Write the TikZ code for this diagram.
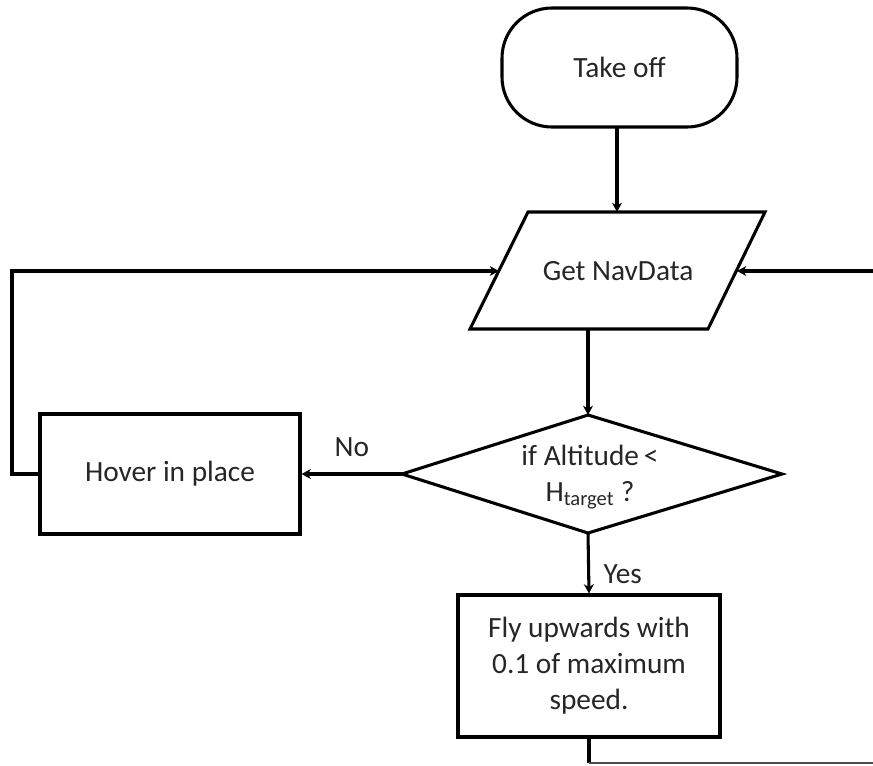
\documentclass[tikz,border=0pt]{standalone}
\usepackage{fontspec}
\setmainfont{Carlito}
\usetikzlibrary{arrows.meta}
\begin{document}
\begin{tikzpicture}[x=0.75pt,y=-0.75pt,
  line width=2.3pt,
  every node/.style={font=\fontsize{22}{27}\selectfont, text=black!85},
  flow/.style={-{Stealth[length=7pt,width=7.5pt]}},
  label/.style={inner sep=0pt}]
\useasboundingbox (0,0) rectangle (873,765);

% Start terminal
\draw[rounded corners=50pt*0.75] (502,8) rectangle (737,127);
\node (takeoff) at (619.5,67.5) {Take off};
\coordinate (takeoffB) at (617,127);

% Input/output parallelogram
\draw (528,212) -- (765,212) -- (708,329) -- (470,329) -- cycle;
\node (nav) at (618,271) {Get NavData};
\coordinate (navT) at (617,212);
\coordinate (navL) at (499,271);
\coordinate (navR) at (737,271);
\coordinate (navB) at (588,329);

% Decision diamond
\draw (588,415) -- (782,474) -- (588,533) -- (402,474) -- cycle;
\node[align=center] (dec) at (590,477) {if Altitude\,{<}\\H\textsubscript{target} ?};
\coordinate (decT) at (588,415);
\coordinate (decL) at (402,474);
\coordinate (decB) at (588,533);

% Hover box
\node[draw, minimum width=260*0.75pt, minimum height=120*0.75pt] (hover) at (170,474) {Hover in place};

% Climb box
\node[draw, minimum width=262*0.75pt, minimum height=142*0.75pt, align=center] (fly) at (589,666) {Fly upwards with\\0.1 of maximum\\speed.};

% Right-hand return line and bottom continuation
\coordinate (rightEnd) at (873,271);
\coordinate (bottomTurn) at (589,763);
\coordinate (bottomEnd) at (873,763);

% Connectors
\draw[flow] (takeoffB) -- (navT);
\draw[flow] (navB) -- (decT);
\draw[flow] (decL) -- (hover.east) node[label, pos=0.5, above=12pt] {No};
\draw[flow] (decB) -- (fly.north) node[label, pos=0.68, right=10pt] {Yes};
\draw[flow] (hover.west) -- (12,474) -- (12,271) -- (navL);
\draw[flow] (rightEnd) -- (navR);
\draw (fly.south) -- (bottomTurn);
\draw[line width=1pt, black!70] (bottomTurn) -- (bottomEnd);
\end{tikzpicture}
\end{document}
